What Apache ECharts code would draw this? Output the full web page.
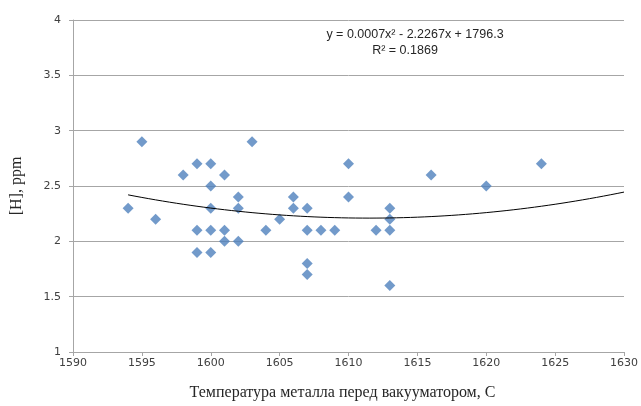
<!DOCTYPE html>
<html>
<head>
<meta charset="utf-8">
<script src="https://cdn.jsdelivr.net/npm/echarts@6/dist/echarts.min.js"></script>
<style>
  html, body { margin: 0; padding: 0; background: #fff; }
  #chart { width: 641px; height: 406px; }
</style>
</head>
<body>
<div id="chart"></div>
<script>
// temperature before vacuum unit, C
var temps = [1594, 1595, 1596, 1598, 1599, 1599, 1599, 1600, 1600, 1600, 1600, 1600,
    1601, 1601, 1601, 1602, 1602, 1602, 1603, 1604, 1605, 1606, 1606, 1607, 1607,
    1607, 1607, 1608, 1609, 1610, 1610, 1612, 1613, 1613, 1613, 1613, 1616, 1620, 1624];
// hydrogen, ppm
var hydrogen = [2.3, 2.9, 2.2, 2.6, 2.7, 2.1, 1.9, 2.7, 2.5, 2.3, 2.1, 1.9,
    2.6, 2.1, 2.0, 2.4, 2.3, 2.0, 2.9, 2.1, 2.2, 2.4, 2.3, 2.3, 2.1,
    1.8, 1.7, 2.1, 2.1, 2.7, 2.4, 2.1, 2.3, 2.2, 2.1, 1.6, 2.6, 2.5, 2.7];
// polynomial trendline (order 2), values at start, bottom and end
var trendX = [1594, 1611, 1630];
var trendY = [2.42, 2.21, 2.445];

var points = temps.map(function (t, i) { return [t, hydrogen[i]]; });

// parabola through the three read trend values (Lagrange form)
function quad(x) {
    var s = 0;
    for (var i = 0; i < 3; i++) {
        var l = 1;
        for (var j = 0; j < 3; j++) {
            if (j !== i) l *= (x - trendX[j]) / (trendX[i] - trendX[j]);
        }
        s += trendY[i] * l;
    }
    return s;
}
var trend = [];
for (var x = trendX[0]; x <= trendX[2] + 1e-9; x += 0.5) trend.push([x, quad(x)]);

var myChart = echarts.init(document.getElementById('chart'));
var option = {
    animation: false,
    grid: { left: 73, right: 15, top: 20, bottom: 53 },
    xAxis: {
        type: 'value',
        min: 1590, max: 1630, interval: 5,
        name: 'Температура металла перед вакууматором, С',
        nameLocation: 'middle',
        nameGap: 33,
        nameTextStyle: { fontFamily: 'Liberation Serif', fontSize: 16, color: '#262626', padding: [0, 12, 0, 0] },
        axisLine: { lineStyle: { color: '#a6a6a6' } },
        axisTick: { show: true, length: 4, lineStyle: { color: '#a6a6a6' } },
        axisLabel: {
            fontFamily: 'DejaVu Sans', fontSize: 11, color: '#404040', margin: 6,
            formatter: function (v) { return String(v); }
        },
        splitLine: { show: false }
    },
    yAxis: {
        type: 'value',
        min: 1, max: 4, interval: 0.5,
        name: '[H], ppm',
        nameLocation: 'middle',
        nameGap: 48,
        nameRotate: 90,
        nameTextStyle: { fontFamily: 'Liberation Serif', fontSize: 16, color: '#262626' },
        axisLine: { show: true, lineStyle: { color: '#a6a6a6' } },
        axisTick: { show: true, length: 4, lineStyle: { color: '#a6a6a6' } },
        axisLabel: { fontFamily: 'DejaVu Sans', fontSize: 11, color: '#404040', margin: 12 },
        splitLine: { lineStyle: { color: '#a6a6a6' } }
    },
    graphic: [
        {
            type: 'text', x: 415, y: 35,
            style: {
                text: 'y = 0.0007x² - 2.2267x + 1796.3', align: 'center', verticalAlign: 'middle',
                fontFamily: 'Liberation Sans', fontSize: 12.5, fill: '#262626'
            }
        },
        {
            type: 'text', x: 405, y: 51,
            style: {
                text: 'R² = 0.1869', align: 'center', verticalAlign: 'middle',
                fontFamily: 'Liberation Sans', fontSize: 12.5, fill: '#262626'
            }
        }
    ],
    series: [
        {
            type: 'scatter',
            data: points,
            symbol: 'diamond',
            symbolSize: 11,
            itemStyle: { color: '#4f81bd' }
        },
        {
            type: 'line',
            data: trend,
            showSymbol: false,
            smooth: false,
            z: 3,
            lineStyle: { color: '#000', width: 1 }
        }
    ]
};
myChart.setOption(option);
</script>
</body>
</html>
